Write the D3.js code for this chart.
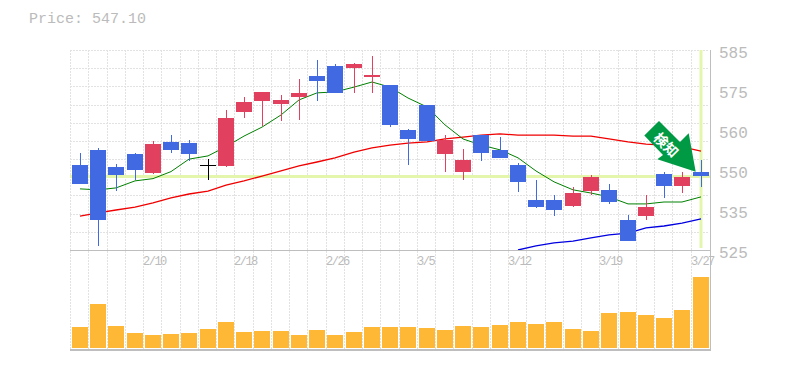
<!DOCTYPE html>
<meta charset="utf-8">
<head>
<script src="https://d3js.org/d3.v7.min.js"></script>
<style>
  body { margin: 0; background: #fff; }
  text { font-family: "Liberation Mono", monospace; fill: #bbb; }
  .grid { stroke: #e2e2e2; stroke-dasharray: 2 1; stroke-width: 1; shape-rendering: crispEdges; }
  .frame { stroke: #bebebe; shape-rendering: crispEdges; }
  .line { fill: none; }
</style>
</head>
<body>
<div id="my_dataviz"></div>
<script>
// candles, in price units
var open = [550.7,555.4,550.0,554.1,548.2,557.9,557.5,550.7,550.4,567.2,570.7,569.7,571.9,578.5,581.6,581.0,578.2,575.7,561.6,569.4,554.1,548.5,560.0,555.4,550.7,539.7,539.7,537.9,542.5,542.9,533.5,534.7,547.9,544.1,548.5];
var close = [544.7,533.5,547.5,549.1,557.2,555.4,554.1,550.7,565.4,570.4,573.5,571.0,573.2,576.9,573.2,582.2,578.8,563.2,558.8,558.2,558.5,552.2,554.4,552.9,545.4,537.5,536.6,541.9,546.9,539.1,526.9,537.5,544.1,546.9,547.1];
var high = [554.4,556.0,551.0,554.4,558.2,560.0,558.5,552.5,567.9,571.9,573.5,572.5,577.5,583.5,582.2,582.5,584.7,575.7,561.9,569.4,560.0,555.7,560.0,559.4,551.3,546.0,541.3,543.8,547.5,544.7,535.0,541.3,548.5,548.5,552.2];
var low = [544.7,525.4,542.5,546.0,547.9,554.4,551.9,546.0,550.0,565.4,562.9,564.4,564.7,570.7,573.2,573.2,573.2,562.5,550.7,558.2,548.5,546.0,551.9,552.9,542.2,537.2,534.7,537.5,541.3,538.5,526.9,533.5,540.4,541.9,543.9];

// moving averages
var maGreen = [543.2,542.9,543.5,545.7,546.4,548.6,552.5,553.5,556.4,559.7,562.5,566.3,571.0,573.2,573.5,575.0,576.6,575.0,571.6,568.8,563.2,558.8,556.9,555.4,552.9,548.8,545.4,542.9,541.9,540.7,538.5,538.5,539.1,539.1,540.7];
var maRed = [534.7,535.7,536.6,537.5,538.8,540.4,541.6,542.5,544.4,545.7,547.2,548.8,550.4,551.6,552.9,554.7,556.0,556.9,557.5,557.9,558.8,559.4,560.0,560.4,560.0,560.0,560.0,559.7,559.7,558.8,557.9,557.2,556.9,556.3,555.0];
var maBlue = [null,null,null,null,null,null,null,null,null,null,null,null,null,null,null,null,null,null,null,null,null,null,null,null,524.1,525.4,526.3,526.9,527.9,528.8,529.4,531.0,531.6,532.5,533.8];

// volume
var volume = [21,44,22,15,13,14,15,19,26,16,17,17,13,18,13,16,21,21,21,20,18,22,21,23,26,24,26,19,17,35,36,33,30,38,71];

var dateIndex = [4,9,14,19,24,29,34];
var dateLabels = ["2/10","2/18","2/26","3/5","3/12","3/19","3/27"];
var priceTicks = [585.6,573.1,560.6,548.1,535.6,523.1];
var priceLabels = ["585","575","560","550","535","525"];
var lastPrice = 547.10;

var W = 785, H = 370;
var left = 70, right = 709, top1 = 50, bot1 = 250, bot2 = 350;

var svg = d3.select("#my_dataviz").append("svg")
  .attr("width", W).attr("height", H).style("display", "block");

var x = d3.scaleBand().domain(d3.range(open.length)).range([left + 0.7, right + 0.7]).paddingInner(0.12).paddingOuter(0.06);
var y = d3.scaleLinear().domain([586.6, 524.1]).range([top1, bot1]);
var v = d3.scaleLinear().domain([0, 71]).range([348, 277]);
var gridX = d3.scaleLinear().domain([0, 35]).range([left, right]);
var gridY = d3.scaleLinear().domain([0, 11]).range([top1, bot1]);

function cx(i) { return Math.round(x(i)) + 8; }

// grid
svg.append("g").selectAll("line").data(d3.range(35)).enter().append("line")
  .attr("class", "grid")
  .attr("x1", function(d) { return Math.round(gridX(d)) + 0.5; })
  .attr("x2", function(d) { return Math.round(gridX(d)) + 0.5; })
  .attr("y1", top1).attr("y2", bot2);
svg.append("g").selectAll("line").data(d3.range(11)).enter().append("line")
  .attr("class", "grid")
  .attr("y1", function(d) { return Math.round(gridY(d)) + 0.5; })
  .attr("y2", function(d) { return Math.round(gridY(d)) + 0.5; })
  .attr("x1", left).attr("x2", right);

// price marker lines
svg.append("line").attr("x1", left).attr("x2", right + 1).attr("y1", y(lastPrice)).attr("y2", y(lastPrice))
  .attr("stroke", "#e3f6ab").attr("stroke-width", 3);
svg.append("line").attr("x1", cx(34)).attr("x2", cx(34)).attr("y1", top1).attr("y2", bot1 - 2)
  .attr("stroke", "#e3f6ab").attr("stroke-width", 3);

// frame
svg.append("line").attr("class", "frame").attr("x1", left).attr("x2", right + 2).attr("y1", bot1 + 0.5).attr("y2", bot1 + 0.5);
svg.append("line").attr("class", "frame").attr("x1", left).attr("x2", right + 2).attr("y1", bot2).attr("y2", bot2).attr("stroke-width", 2);
svg.append("line").attr("class", "frame").attr("x1", right + 1).attr("x2", right + 1).attr("y1", top1).attr("y2", bot2);

// moving averages, under the candles
function maLine(values, color, w) {
  svg.append("path").datum(values).attr("class", "line").attr("stroke", color).attr("stroke-width", w)
    .attr("clip-path", "url(#priceClip)")
    .attr("d", d3.line().defined(function(d) { return d !== null; })
      .x(function(d, i) { return cx(i); })
      .y(function(d) { return y(d); }));
}
svg.append("clipPath").attr("id", "priceClip").append("rect")
  .attr("x", left).attr("y", top1).attr("width", right - left).attr("height", bot1 - top1);
maLine(maRed, "#f00000", 1.3);
maLine(maBlue, "#0000e0", 1.3);
maLine(maGreen, "#008000", 1);

// candles
var color = function(i) {
  if (Math.abs(open[i] - close[i]) < 0.2) return "#000";
  return close[i] > open[i] ? "#e2405f" : "#4169e1";
};
var candle = svg.append("g").selectAll("g").data(d3.range(open.length)).enter().append("g")
  .attr("shape-rendering", "crispEdges");
candle.append("line")
  .attr("x1", function(i) { return cx(i); }).attr("x2", function(i) { return cx(i); })
  .attr("y1", function(i) { return y(high[i]); }).attr("y2", function(i) { return y(low[i]); })
  .attr("stroke", color).attr("stroke-width", 1);
candle.append("rect")
  .attr("x", function(i) { return Math.round(x(i)); })
  .attr("y", function(i) { return y(Math.max(open[i], close[i])); })
  .attr("width", 16)
  .attr("height", function(i) { return Math.max(1, Math.abs(y(open[i]) - y(close[i]))); })
  .attr("fill", color);

// volume
svg.append("g").selectAll("rect").data(volume).enter().append("rect")
  .attr("x", function(d, i) { return Math.round(x(i)); })
  .attr("y", function(d) { return v(d); })
  .attr("width", 16)
  .attr("height", function(d) { return v(0) - v(d); })
  .attr("fill", "#ffb835")
  .attr("shape-rendering", "crispEdges");

// signal arrow
svg.append("path")
  .attr("d", "M659,121L680,142L688.7,133.3L695.7,171.7L657.3,159.3L663,155L644.3,135.5Z")
  .attr("fill", "#009a44");
svg.append("text").attr("transform", "translate(666,145) rotate(45)")
  .attr("text-anchor", "middle").attr("y", 5).attr("font-size", 14).attr("font-weight", "bold")
  .style("font-family", "'Noto Sans CJK JP'").style("fill", "#fff").text("検知");

// axes text
svg.append("text").attr("x", 29).attr("y", 23).attr("font-size", 15).text("Price: " + lastPrice.toFixed(2));
svg.append("g").selectAll("text").data(priceLabels).enter().append("text")
  .attr("x", 719).attr("y", function(d, i) { return y(priceTicks[i]) + 5; })
  .attr("font-size", 16).text(function(d) { return d; });
svg.append("g").selectAll("text").data(dateLabels).enter().append("text")
  .attr("x", function(d, i) { return Math.round(gridX(dateIndex[i])); }).attr("y", 265)
  .attr("font-size", 12).attr("letter-spacing", -1.5).text(function(d) { return d; });
</script>
</body>
